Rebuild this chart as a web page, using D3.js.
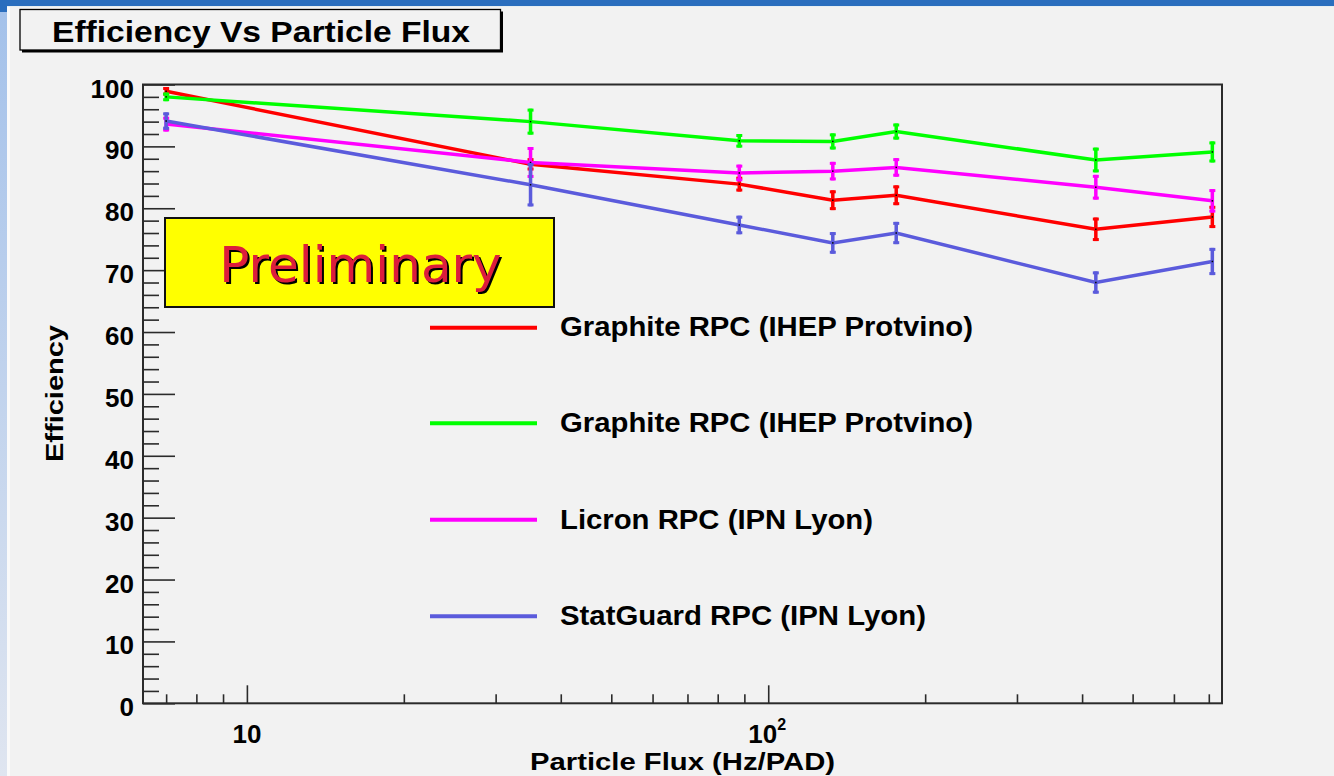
<!DOCTYPE html>
<html>
<head>
<meta charset="utf-8">
<script src="https://cdn.jsdelivr.net/npm/d3@7"></script>
<style>
  html, body { margin: 0; padding: 0; background: #f2f2f2; }
  svg { display: block; }
  .rt { font-family: "Liberation Sans", Arial, Helvetica, sans-serif; font-weight: bold; fill: #000; }
</style>
</head>
<body>
<svg id="chart" width="1334" height="776"></svg>
<script>
// Particle flux values (Hz/PAD) at which each detector was measured
const flux = [7, 35, 88, 133, 176, 425, 711];

// Efficiency (%) and its uncertainty for each chamber
const graphiteA    = [98.9, 87.1, 83.9, 81.3, 82.1, 76.6, 78.6];
const graphiteAErr = [0.7, 1.0, 1.2, 1.6, 1.6, 1.9, 1.8];
const graphiteB    = [98.0, 94.0, 90.9, 90.8, 92.4, 87.8, 89.1];
const graphiteBErr = [0.7, 2.1, 1.1, 1.3, 1.3, 2.0, 1.7];
const licron       = [93.6, 87.4, 85.7, 86.0, 86.6, 83.4, 81.2];
const licronErr    = [1.2, 2.5, 1.35, 1.5, 1.5, 2.0, 1.9];
const statguard    = [94.1, 83.8, 77.3, 74.4, 76.0, 68.0, 71.4];
const statguardErr = [1.4, 3.5, 1.5, 1.75, 1.8, 1.8, 2.2];

const seriesNames = [
  "Graphite RPC (IHEP Protvino)",
  "Graphite RPC (IHEP Protvino)",
  "Licron RPC (IPN Lyon)",
  "StatGuard RPC (IPN Lyon)"
];
const seriesColors = ["#ff0000", "#00ff00", "#ff00ff", "#5b5bdc"];

// Axis ticks
const yMajorTicks = [0, 10, 20, 30, 40, 50, 60, 70, 80, 90, 100];
const yMinorTicks = d3.range(0, 101, 2).filter(v => v % 10 !== 0);
const xMajorTicks = [10, 100];
const xMinorTicks = [7, 8, 9, 20, 30, 40, 50, 60, 70, 80, 90, 200, 300, 400, 500, 600, 700];

const svg = d3.select("#chart");

// ---- page background ----
const defs = svg.append("defs");
const grad = defs.append("linearGradient").attr("id", "sideGrad")
  .attr("x1", 0).attr("y1", 0).attr("x2", 0).attr("y2", 1);
grad.append("stop").attr("offset", "0%").attr("stop-color", "#a3c1ea");
grad.append("stop").attr("offset", "100%").attr("stop-color", "#dfe5f0");

svg.append("rect").attr("x", 0).attr("y", 0).attr("width", 1334).attr("height", 776).attr("fill", "#f2f2f2");
svg.append("rect").attr("x", 0).attr("y", 0).attr("width", 7).attr("height", 776).attr("fill", "url(#sideGrad)");
svg.append("rect").attr("x", 7).attr("y", 6).attr("width", 3).attr("height", 770).attr("fill", "#fafafa");
svg.append("rect").attr("x", 0).attr("y", 0).attr("width", 7).attr("height", 12).attr("fill", "#2a6ebe");
svg.append("rect").attr("x", 0).attr("y", 0).attr("width", 1334).attr("height", 6).attr("fill", "#2a6ebe");
svg.append("rect").attr("x", 7).attr("y", 6).attr("width", 1327).attr("height", 1).attr("fill", "#e6eef2");

// ---- scales ----
const plot = { left: 143, right: 1222, top: 84.5, bottom: 703.3 };
const x = d3.scaleLog().domain([6.32, 742]).range([plot.left, plot.right]);
const y = d3.scaleLinear().domain([0, 100]).range([plot.bottom, plot.top]);

// ---- frame ----
svg.append("rect")
  .attr("x", plot.left).attr("y", plot.top)
  .attr("width", plot.right - plot.left).attr("height", plot.bottom - plot.top)
  .attr("fill", "#f2f2f2").attr("stroke", "#2b2b2b").attr("stroke-width", 2);

// ---- axes ----
function styleAxis(g) {
  g.select(".domain").remove();
  g.selectAll(".tick line").attr("stroke", "#2b2b2b").attr("stroke-width", 1.6);
  g.selectAll(".tick text").remove();
}
svg.append("g").attr("transform", `translate(${plot.left},0)`)
  .call(d3.axisRight(y).tickValues(yMajorTicks).tickSize(32).tickFormat(""))
  .call(styleAxis);
svg.append("g").attr("transform", `translate(${plot.left},0)`)
  .call(d3.axisRight(y).tickValues(yMinorTicks).tickSize(16).tickFormat(""))
  .call(styleAxis);
svg.append("g").attr("transform", `translate(0,${plot.bottom})`)
  .call(d3.axisTop(x).tickValues(xMajorTicks).tickSize(18).tickFormat(""))
  .call(styleAxis);
svg.append("g").attr("transform", `translate(0,${plot.bottom})`)
  .call(d3.axisTop(x).tickValues(xMinorTicks).tickSize(9).tickFormat(""))
  .call(styleAxis);

// y tick labels
svg.append("g").selectAll("text").data(yMajorTicks).join("text")
  .attr("class", "rt")
  .attr("x", 134).attr("y", d => y(d) + 13)
  .attr("text-anchor", "end")
  .attr("font-size", 26)
  .text(d => d);

// x tick labels: 10 and 10^2
const xLab = svg.append("g");
xLab.append("text").attr("class", "rt")
  .attr("x", x(10)).attr("y", 743).attr("text-anchor", "middle")
  .attr("font-size", 26).text("10");
const t100 = xLab.append("text").attr("class", "rt")
  .attr("x", x(100) - 1).attr("y", 743).attr("text-anchor", "middle")
  .attr("font-size", 26);
t100.append("tspan").text("10");
t100.append("tspan").attr("font-size", 16).attr("dy", -13).text("2");

// axis titles
svg.append("text").attr("class", "rt")
  .attr("transform", "translate(62.5,393.5) rotate(-90)")
  .attr("text-anchor", "middle")
  .attr("font-size", 24)
  .attr("textLength", 137).attr("lengthAdjust", "spacingAndGlyphs")
  .text("Efficiency");
svg.append("text").attr("class", "rt")
  .attr("x", 682.5).attr("y", 770)
  .attr("text-anchor", "middle")
  .attr("font-size", 23.5)
  .attr("textLength", 305).attr("lengthAdjust", "spacingAndGlyphs")
  .text("Particle Flux (Hz/PAD)");

// ---- data series ----
const allSeries = [
  { values: graphiteA, errors: graphiteAErr },
  { values: graphiteB, errors: graphiteBErr },
  { values: licron,    errors: licronErr },
  { values: statguard, errors: statguardErr }
].map((s, i) => ({
  ...s,
  color: seriesColors[i],
  name: seriesNames[i],
  points: flux.map((f, j) => ({ f, v: s.values[j], e: s.errors[j] }))
}));

const line = d3.line().x(d => x(d.f)).y(d => y(d.v));
const capW = 3;

allSeries.forEach(s => {
  const g = svg.append("g");
  g.append("path").datum(s.points)
    .attr("d", line)
    .attr("fill", "none")
    .attr("stroke", s.color)
    .attr("stroke-width", 3.5)
    .attr("stroke-linejoin", "miter");
  const eb = g.selectAll("g.eb").data(s.points).join("g").attr("class", "eb");
  eb.append("line")
    .attr("x1", d => x(d.f)).attr("x2", d => x(d.f))
    .attr("y1", d => y(d.v + d.e)).attr("y2", d => y(d.v - d.e))
    .attr("stroke", s.color).attr("stroke-width", 3.5);
  eb.append("line")
    .attr("x1", d => x(d.f) - capW).attr("x2", d => x(d.f) + capW)
    .attr("y1", d => y(d.v + d.e) + 1.5).attr("y2", d => y(d.v + d.e) + 1.5)
    .attr("stroke", s.color).attr("stroke-width", 3);
  eb.append("line")
    .attr("x1", d => x(d.f) - capW).attr("x2", d => x(d.f) + capW)
    .attr("y1", d => y(d.v - d.e) - 1.5).attr("y2", d => y(d.v - d.e) - 1.5)
    .attr("stroke", s.color).attr("stroke-width", 3);
  eb.append("rect")
    .attr("x", d => x(d.f) - 0.75).attr("y", d => y(d.v) - 0.75)
    .attr("width", 1.5).attr("height", 1.5)
    .attr("fill", "#000");
});

// ---- "Preliminary" label box ----
svg.append("rect")
  .attr("x", 165).attr("y", 218).attr("width", 389).attr("height", 89)
  .attr("fill", "#ffff00").attr("stroke", "#111").attr("stroke-width", 2);
svg.append("text")
  .attr("x", 362.5).attr("y", 283.5).attr("text-anchor", "middle")
  .attr("font-family", "DejaVu Sans, Verdana, sans-serif")
  .attr("font-size", 50).attr("fill", "#000")
  .text("Preliminary");
svg.append("text")
  .attr("x", 360.5).attr("y", 281.5).attr("text-anchor", "middle")
  .attr("font-family", "DejaVu Sans, Verdana, sans-serif")
  .attr("font-size", 50).attr("fill", "#dc1e3c")
  .text("Preliminary");

// ---- legend ----
const legendY = [327.7, 423.3, 519.8, 616.2];
const legendTextLen = [413, 413, 313, 366];
const leg = svg.append("g");
allSeries.forEach((s, i) => {
  leg.append("line")
    .attr("x1", 430).attr("x2", 537)
    .attr("y1", legendY[i]).attr("y2", legendY[i])
    .attr("stroke", s.color).attr("stroke-width", 4);
  leg.append("text").attr("class", "rt")
    .attr("x", 560).attr("y", legendY[i] + 8.7)
    .attr("font-size", 27)
    .attr("textLength", legendTextLen[i]).attr("lengthAdjust", "spacingAndGlyphs")
    .text(s.name);
});

// ---- title box ----
svg.append("rect")
  .attr("x", 22).attr("y", 11.5).attr("width", 481).attr("height", 41)
  .attr("fill", "#000");
svg.append("rect")
  .attr("x", 20).attr("y", 9.5).attr("width", 480.5).attr("height", 40.5)
  .attr("fill", "#f2f2f2").attr("stroke", "#000").attr("stroke-width", 1.3);
svg.append("text").attr("class", "rt")
  .attr("x", 52).attr("y", 42.3)
  .attr("font-size", 30)
  .attr("textLength", 418).attr("lengthAdjust", "spacingAndGlyphs")
  .text("Efficiency Vs Particle Flux");
</script>
</body>
</html>
